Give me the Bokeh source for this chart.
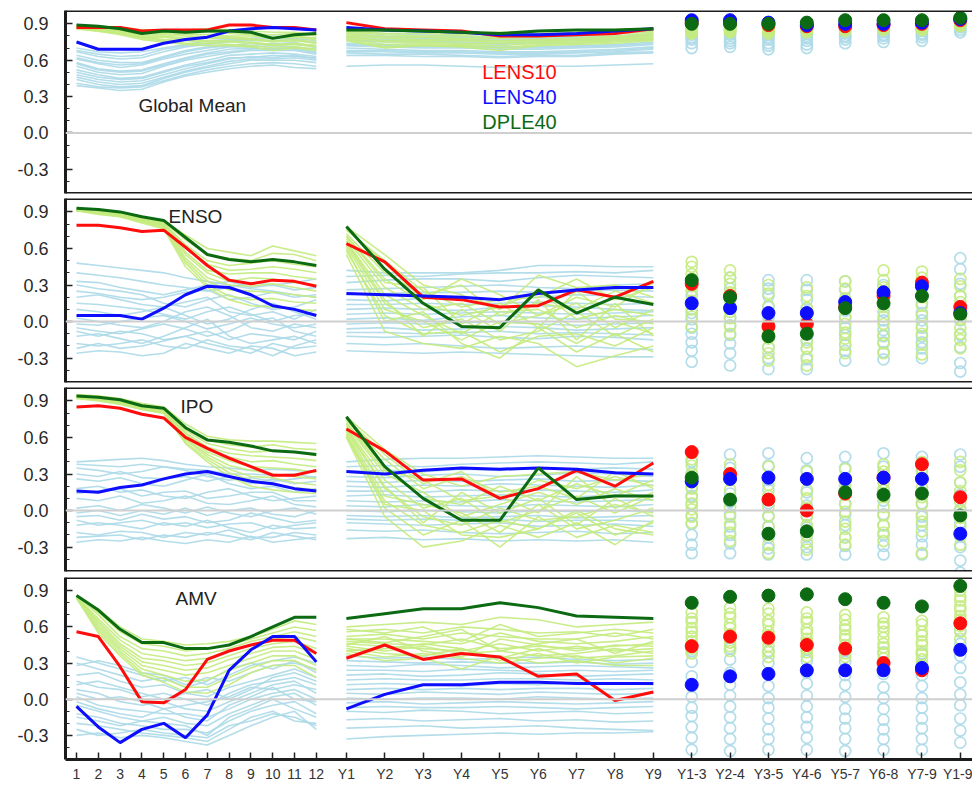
from bokeh.plotting import figure
from bokeh.models import FixedTicker, Span, Label, NumeralTickFormatter
from bokeh.layouts import column
from bokeh.embed import file_html
from bokeh.resources import INLINE

# ---------------- tick labels ----------------
MONTH_LABELS = ["1", "2", "3", "4", "5", "6", "7", "8", "9", "10", "11", "12"]
LEAD_LABELS = ["Y1", "Y2", "Y3", "Y4", "Y5", "Y6", "Y7", "Y8", "Y9"]
AVG_LABELS = ["Y1-3", "Y2-4", "Y3-5", "Y4-6", "Y5-7", "Y6-8", "Y7-9", "Y1-9"]
SERIES_NAMES = ["LENS10", "LENS40", "DPLE40"]
PANEL_NAMES = ["Global Mean", "ENSO", "IPO", "AMV"]

# ---------------- Global Mean ----------------
GM_L10_MON = [0.87, 0.87, 0.87, 0.84, 0.85, 0.85, 0.85, 0.89, 0.89, 0.87, 0.87, 0.85]
GM_L40_MON = [0.75, 0.69, 0.69, 0.69, 0.74, 0.77, 0.79, 0.84, 0.86, 0.87, 0.86, 0.85]
GM_D40_MON = [0.89, 0.88, 0.86, 0.82, 0.84, 0.83, 0.84, 0.84, 0.83, 0.78, 0.81, 0.82]
GM_L10_YR = [0.91, 0.86, 0.85, 0.84, 0.80, 0.80, 0.81, 0.82, 0.86]
GM_L40_YR = [0.87, 0.85, 0.84, 0.83, 0.81, 0.81, 0.82, 0.84, 0.86]
GM_D40_YR = [0.85, 0.85, 0.84, 0.83, 0.82, 0.84, 0.85, 0.85, 0.86]
GM_L10_AVG = [0.91, 0.91, 0.89, 0.88, 0.88, 0.89, 0.90, 0.93]
GM_L40_AVG = [0.93, 0.93, 0.91, 0.89, 0.90, 0.90, 0.91, 0.94]
GM_D40_AVG = [0.90, 0.90, 0.90, 0.91, 0.93, 0.93, 0.93, 0.95]
GM_LENS_MON = [
    [0.70, 0.67, 0.66, 0.67, 0.70, 0.73, 0.76, 0.77, 0.78, 0.80, 0.79, 0.78],
    [0.68, 0.65, 0.63, 0.64, 0.69, 0.72, 0.74, 0.76, 0.77, 0.78, 0.78, 0.76],
    [0.67, 0.63, 0.61, 0.62, 0.67, 0.71, 0.73, 0.75, 0.76, 0.76, 0.77, 0.74],
    [0.64, 0.60, 0.58, 0.58, 0.63, 0.68, 0.71, 0.73, 0.72, 0.74, 0.73, 0.72],
    [0.62, 0.58, 0.56, 0.57, 0.62, 0.67, 0.70, 0.72, 0.74, 0.73, 0.75, 0.70],
    [0.61, 0.57, 0.54, 0.56, 0.61, 0.65, 0.68, 0.71, 0.71, 0.72, 0.71, 0.69],
    [0.58, 0.53, 0.51, 0.52, 0.57, 0.62, 0.66, 0.69, 0.70, 0.69, 0.70, 0.67],
    [0.57, 0.52, 0.50, 0.51, 0.56, 0.61, 0.65, 0.67, 0.69, 0.70, 0.69, 0.66],
    [0.55, 0.50, 0.48, 0.49, 0.55, 0.60, 0.63, 0.66, 0.68, 0.68, 0.68, 0.65],
    [0.52, 0.48, 0.45, 0.46, 0.51, 0.56, 0.60, 0.64, 0.65, 0.66, 0.65, 0.63],
    [0.50, 0.46, 0.44, 0.45, 0.50, 0.55, 0.58, 0.62, 0.62, 0.64, 0.63, 0.62],
    [0.48, 0.44, 0.42, 0.43, 0.48, 0.53, 0.57, 0.61, 0.63, 0.62, 0.64, 0.61],
    [0.46, 0.42, 0.40, 0.41, 0.46, 0.51, 0.55, 0.59, 0.61, 0.61, 0.62, 0.60],
    [0.44, 0.40, 0.38, 0.39, 0.45, 0.50, 0.54, 0.57, 0.60, 0.60, 0.60, 0.58],
    [0.41, 0.38, 0.37, 0.38, 0.43, 0.48, 0.52, 0.55, 0.57, 0.58, 0.57, 0.55],
    [0.39, 0.37, 0.35, 0.36, 0.42, 0.47, 0.50, 0.53, 0.55, 0.56, 0.54, 0.53],
]
GM_DPLE_MON = [
    [0.89, 0.88, 0.87, 0.85, 0.85, 0.85, 0.86, 0.85, 0.84, 0.83, 0.83, 0.81],
    [0.88, 0.88, 0.86, 0.84, 0.84, 0.84, 0.84, 0.84, 0.82, 0.81, 0.82, 0.80],
    [0.88, 0.87, 0.86, 0.83, 0.83, 0.82, 0.83, 0.82, 0.81, 0.79, 0.80, 0.78],
    [0.88, 0.87, 0.85, 0.82, 0.82, 0.81, 0.81, 0.80, 0.80, 0.78, 0.79, 0.77],
    [0.87, 0.86, 0.84, 0.81, 0.81, 0.80, 0.79, 0.79, 0.78, 0.76, 0.77, 0.75],
    [0.87, 0.86, 0.84, 0.80, 0.80, 0.78, 0.78, 0.78, 0.77, 0.75, 0.76, 0.74],
    [0.87, 0.85, 0.83, 0.79, 0.79, 0.77, 0.76, 0.76, 0.75, 0.73, 0.74, 0.72],
    [0.86, 0.85, 0.82, 0.79, 0.77, 0.76, 0.75, 0.75, 0.74, 0.72, 0.73, 0.71],
    [0.86, 0.84, 0.82, 0.78, 0.76, 0.74, 0.74, 0.73, 0.72, 0.70, 0.71, 0.69],
    [0.86, 0.84, 0.81, 0.77, 0.75, 0.73, 0.72, 0.72, 0.71, 0.68, 0.70, 0.68],
]
GM_LENS_YR = [
    [0.86, 0.84, 0.83, 0.82, 0.80, 0.81, 0.82, 0.83, 0.85],
    [0.84, 0.82, 0.81, 0.80, 0.79, 0.80, 0.80, 0.82, 0.84],
    [0.82, 0.80, 0.79, 0.79, 0.78, 0.78, 0.79, 0.80, 0.82],
    [0.80, 0.79, 0.78, 0.77, 0.77, 0.77, 0.78, 0.79, 0.81],
    [0.79, 0.77, 0.77, 0.76, 0.76, 0.76, 0.77, 0.78, 0.80],
    [0.77, 0.76, 0.76, 0.75, 0.74, 0.75, 0.76, 0.77, 0.78],
    [0.76, 0.75, 0.75, 0.74, 0.73, 0.74, 0.74, 0.76, 0.77],
    [0.74, 0.73, 0.72, 0.72, 0.71, 0.71, 0.72, 0.73, 0.75],
    [0.73, 0.72, 0.71, 0.71, 0.70, 0.70, 0.71, 0.72, 0.74],
    [0.72, 0.71, 0.70, 0.70, 0.69, 0.69, 0.70, 0.71, 0.73],
    [0.70, 0.69, 0.68, 0.68, 0.67, 0.67, 0.68, 0.69, 0.71],
    [0.68, 0.68, 0.67, 0.67, 0.66, 0.66, 0.67, 0.68, 0.70],
    [0.67, 0.67, 0.66, 0.66, 0.65, 0.65, 0.66, 0.67, 0.69],
    [0.66, 0.65, 0.65, 0.64, 0.63, 0.64, 0.64, 0.66, 0.67],
    [0.64, 0.64, 0.63, 0.63, 0.62, 0.63, 0.63, 0.65, 0.66],
    [0.55, 0.56, 0.56, 0.55, 0.54, 0.55, 0.55, 0.56, 0.57],
]
GM_DPLE_YR = [
    [0.85, 0.84, 0.84, 0.83, 0.83, 0.84, 0.85, 0.85, 0.86],
    [0.84, 0.82, 0.82, 0.81, 0.82, 0.82, 0.83, 0.84, 0.84],
    [0.83, 0.81, 0.80, 0.80, 0.79, 0.80, 0.81, 0.82, 0.83],
    [0.82, 0.79, 0.79, 0.78, 0.78, 0.79, 0.80, 0.80, 0.82],
    [0.81, 0.78, 0.77, 0.77, 0.76, 0.77, 0.78, 0.79, 0.81],
    [0.80, 0.76, 0.76, 0.76, 0.75, 0.76, 0.77, 0.78, 0.80],
    [0.79, 0.75, 0.75, 0.74, 0.74, 0.75, 0.76, 0.77, 0.79],
    [0.78, 0.73, 0.74, 0.73, 0.72, 0.74, 0.75, 0.76, 0.78],
    [0.77, 0.71, 0.73, 0.72, 0.70, 0.73, 0.74, 0.75, 0.77],
    [0.76, 0.70, 0.72, 0.71, 0.68, 0.72, 0.73, 0.74, 0.76],
]
GM_LENS_AVG = [
    [0.90, 0.88, 0.86, 0.85, 0.83, 0.81, 0.79, 0.77, 0.74, 0.70],
    [0.90, 0.89, 0.87, 0.84, 0.82, 0.81, 0.78, 0.76, 0.74, 0.71],
    [0.89, 0.87, 0.85, 0.82, 0.81, 0.79, 0.77, 0.74, 0.72, 0.69],
    [0.89, 0.88, 0.86, 0.83, 0.82, 0.80, 0.78, 0.76, 0.73, 0.70],
    [0.90, 0.89, 0.87, 0.86, 0.84, 0.82, 0.80, 0.79, 0.77, 0.74],
    [0.91, 0.90, 0.88, 0.86, 0.85, 0.83, 0.81, 0.80, 0.78, 0.75],
    [0.91, 0.90, 0.89, 0.87, 0.85, 0.84, 0.82, 0.81, 0.79, 0.76],
    [0.94, 0.93, 0.92, 0.91, 0.90, 0.89, 0.88, 0.87, 0.85, 0.83],
]
GM_DPLE_AVG = [
    [0.90, 0.89, 0.88, 0.87, 0.87, 0.86, 0.85, 0.84, 0.83, 0.82],
    [0.90, 0.89, 0.88, 0.88, 0.87, 0.86, 0.86, 0.85, 0.84, 0.83],
    [0.90, 0.89, 0.88, 0.87, 0.86, 0.86, 0.85, 0.84, 0.83, 0.82],
    [0.91, 0.90, 0.89, 0.88, 0.87, 0.86, 0.85, 0.85, 0.84, 0.83],
    [0.92, 0.91, 0.90, 0.89, 0.89, 0.88, 0.87, 0.86, 0.85, 0.84],
    [0.92, 0.91, 0.90, 0.90, 0.89, 0.88, 0.87, 0.86, 0.86, 0.85],
    [0.92, 0.91, 0.91, 0.90, 0.89, 0.88, 0.88, 0.87, 0.86, 0.85],
    [0.95, 0.94, 0.93, 0.93, 0.92, 0.91, 0.91, 0.90, 0.89, 0.88],
]

# ---------------- ENSO ----------------
ENSO_L10_MON = [0.79, 0.79, 0.77, 0.74, 0.75, 0.61, 0.46, 0.34, 0.31, 0.34, 0.33, 0.29]
ENSO_L40_MON = [0.05, 0.05, 0.05, 0.02, 0.11, 0.22, 0.29, 0.28, 0.22, 0.13, 0.10, 0.05]
ENSO_D40_MON = [0.93, 0.92, 0.90, 0.86, 0.83, 0.69, 0.55, 0.51, 0.49, 0.51, 0.49, 0.46]
ENSO_L10_YR = [0.64, 0.49, 0.20, 0.18, 0.12, 0.13, 0.26, 0.20, 0.33]
ENSO_L40_YR = [0.23, 0.22, 0.21, 0.20, 0.18, 0.23, 0.26, 0.28, 0.28]
ENSO_D40_YR = [0.78, 0.43, 0.15, -0.04, -0.05, 0.26, 0.07, 0.20, 0.14]
ENSO_L10_AVG = [0.31, 0.21, -0.04, -0.02, 0.12, 0.21, 0.32, 0.12]
ENSO_L40_AVG = [0.15, 0.11, 0.07, 0.07, 0.16, 0.24, 0.29, 0.07]
ENSO_D40_AVG = [0.34, 0.20, -0.12, -0.10, 0.11, 0.15, 0.21, 0.06]
ENSO_LENS_MON = [
    [0.48, 0.46, 0.44, 0.42, 0.40, 0.36, 0.33, 0.30, 0.27, 0.25, 0.22, 0.20],
    [0.40, 0.38, 0.36, 0.33, 0.30, 0.28, 0.25, 0.28, 0.32, 0.30, 0.26, 0.28],
    [0.33, 0.32, 0.28, 0.25, 0.22, 0.26, 0.30, 0.33, 0.28, 0.30, 0.32, 0.35],
    [0.30, 0.27, 0.25, 0.22, 0.15, 0.12, 0.18, 0.22, 0.15, 0.10, 0.12, 0.18],
    [0.25, 0.23, 0.20, 0.18, 0.20, 0.24, 0.26, 0.18, 0.20, 0.24, 0.20, 0.22],
    [0.20, 0.22, 0.18, 0.14, 0.12, 0.16, 0.20, 0.08, 0.05, 0.08, 0.02, 0.10],
    [0.15, 0.14, 0.12, 0.10, 0.06, 0.02, 0.08, 0.12, 0.06, 0.00, 0.05, 0.06],
    [0.10, 0.08, 0.05, 0.08, 0.12, 0.05, -0.02, 0.02, 0.10, 0.15, 0.08, 0.02],
    [0.03, 0.00, -0.03, -0.05, 0.00, 0.08, 0.12, 0.05, -0.05, -0.08, -0.02, -0.05],
    [-0.02, -0.03, 0.00, 0.03, 0.05, 0.00, -0.06, -0.02, 0.03, -0.02, -0.05, -0.02],
    [-0.05, -0.08, -0.10, -0.06, -0.02, -0.06, -0.12, -0.08, 0.00, 0.03, -0.08, -0.12],
    [-0.08, -0.12, -0.08, -0.10, -0.15, -0.12, -0.08, -0.15, -0.10, -0.12, -0.15, -0.08],
    [-0.12, -0.10, -0.14, -0.18, -0.12, -0.05, 0.02, -0.12, -0.18, -0.15, -0.12, -0.18],
    [-0.18, -0.20, -0.18, -0.15, -0.20, -0.22, -0.15, -0.20, -0.22, -0.28, -0.20, -0.15],
    [-0.22, -0.18, -0.22, -0.20, -0.16, -0.12, -0.18, -0.22, -0.26, -0.18, -0.22, -0.20],
    [-0.26, -0.24, -0.25, -0.28, -0.26, -0.18, -0.22, -0.26, -0.20, -0.22, -0.28, -0.25],
]
ENSO_DPLE_MON = [
    [0.93, 0.92, 0.89, 0.86, 0.83, 0.71, 0.60, 0.57, 0.54, 0.62, 0.58, 0.54],
    [0.93, 0.91, 0.89, 0.85, 0.82, 0.67, 0.55, 0.52, 0.50, 0.56, 0.55, 0.50],
    [0.92, 0.91, 0.88, 0.85, 0.81, 0.63, 0.50, 0.46, 0.48, 0.50, 0.47, 0.45],
    [0.92, 0.91, 0.88, 0.84, 0.80, 0.61, 0.47, 0.42, 0.43, 0.45, 0.43, 0.40],
    [0.92, 0.90, 0.88, 0.84, 0.80, 0.57, 0.42, 0.39, 0.40, 0.40, 0.37, 0.35],
    [0.92, 0.90, 0.87, 0.83, 0.79, 0.55, 0.40, 0.33, 0.36, 0.35, 0.32, 0.30],
    [0.91, 0.90, 0.87, 0.83, 0.79, 0.52, 0.36, 0.30, 0.29, 0.31, 0.28, 0.25],
    [0.91, 0.89, 0.87, 0.82, 0.78, 0.50, 0.33, 0.26, 0.25, 0.24, 0.22, 0.20],
    [0.91, 0.89, 0.86, 0.82, 0.77, 0.48, 0.30, 0.21, 0.18, 0.19, 0.16, 0.15],
    [0.91, 0.88, 0.86, 0.81, 0.76, 0.45, 0.28, 0.18, 0.13, 0.12, 0.10, 0.09],
]
ENSO_LENS_YR = [
    [0.42, 0.40, 0.40, 0.40, 0.42, 0.46, 0.46, 0.45, 0.45],
    [0.37, 0.38, 0.37, 0.39, 0.40, 0.40, 0.41, 0.40, 0.42],
    [0.32, 0.34, 0.35, 0.35, 0.33, 0.36, 0.38, 0.37, 0.36],
    [0.26, 0.27, 0.28, 0.29, 0.30, 0.28, 0.27, 0.30, 0.31],
    [0.22, 0.23, 0.24, 0.24, 0.25, 0.24, 0.25, 0.26, 0.25],
    [0.18, 0.17, 0.19, 0.20, 0.18, 0.20, 0.22, 0.21, 0.20],
    [0.14, 0.14, 0.15, 0.14, 0.15, 0.16, 0.15, 0.14, 0.15],
    [0.10, 0.11, 0.10, 0.09, 0.12, 0.13, 0.12, 0.10, 0.09],
    [0.06, 0.07, 0.06, 0.07, 0.08, 0.07, 0.06, 0.07, 0.08],
    [0.02, 0.03, 0.01, 0.04, 0.05, 0.03, 0.02, 0.04, 0.05],
    [-0.02, -0.01, -0.02, -0.01, 0.00, -0.02, -0.03, -0.02, -0.01],
    [-0.06, -0.05, -0.07, -0.06, -0.04, -0.05, -0.07, -0.06, -0.05],
    [-0.09, -0.09, -0.10, -0.09, -0.08, -0.10, -0.09, -0.10, -0.11],
    [-0.12, -0.13, -0.12, -0.11, -0.13, -0.14, -0.12, -0.13, -0.15],
    [-0.18, -0.19, -0.18, -0.20, -0.22, -0.21, -0.20, -0.22, -0.23],
    [-0.24, -0.25, -0.26, -0.25, -0.26, -0.27, -0.28, -0.29, -0.29],
]
ENSO_DPLE_YR = [
    [0.78, 0.55, 0.30, 0.22, 0.10, 0.38, 0.28, 0.30, 0.20],
    [0.76, 0.48, 0.18, 0.35, 0.22, 0.05, 0.20, 0.12, 0.32],
    [0.75, 0.50, 0.25, 0.12, 0.18, 0.20, 0.35, 0.18, 0.28],
    [0.72, 0.40, 0.22, 0.30, 0.05, 0.15, 0.10, 0.25, 0.15],
    [0.70, 0.35, 0.15, 0.05, 0.12, 0.25, 0.02, 0.10, 0.05],
    [0.70, 0.32, 0.28, -0.02, 0.15, -0.05, 0.25, 0.02, 0.00],
    [0.68, 0.28, 0.10, 0.15, -0.02, 0.05, 0.15, -0.05, 0.10],
    [0.66, 0.22, 0.05, -0.10, 0.08, 0.10, -0.05, 0.05, -0.02],
    [0.65, 0.18, -0.12, 0.10, -0.08, 0.18, -0.15, 0.15, -0.12],
    [0.64, 0.15, -0.05, 0.02, -0.15, -0.08, 0.08, -0.12, 0.02],
    [0.62, 0.10, 0.00, -0.15, 0.00, -0.02, -0.18, 0.00, -0.10],
    [0.60, 0.00, 0.08, -0.18, -0.30, -0.05, -0.25, -0.10, -0.25],
    [0.58, 0.05, -0.10, -0.08, -0.25, -0.12, -0.10, -0.20, -0.05],
    [0.55, -0.08, -0.18, -0.22, -0.12, -0.18, -0.37, -0.28, -0.20],
]
ENSO_LENS_AVG = [
    [0.30, 0.21, 0.16, 0.07, 0.02, -0.05, -0.10, -0.17, -0.24, -0.33],
    [0.36, 0.27, 0.17, 0.11, 0.03, -0.03, -0.11, -0.18, -0.26, -0.36],
    [0.34, 0.27, 0.21, 0.12, 0.03, -0.05, -0.13, -0.21, -0.30, -0.39],
    [0.34, 0.26, 0.18, 0.11, 0.01, -0.06, -0.15, -0.22, -0.31, -0.39],
    [0.33, 0.26, 0.16, 0.09, 0.03, -0.05, -0.11, -0.19, -0.24, -0.32],
    [0.30, 0.23, 0.14, 0.08, 0.01, -0.07, -0.12, -0.17, -0.25, -0.31],
    [0.30, 0.21, 0.15, 0.07, 0.01, -0.05, -0.12, -0.17, -0.22, -0.30],
    [0.52, 0.43, 0.31, 0.21, 0.09, 0.01, -0.11, -0.21, -0.34, -0.41],
]
ENSO_DPLE_AVG = [
    [0.49, 0.45, 0.39, 0.35, 0.29, 0.25, 0.17, 0.10, 0.04, -0.04],
    [0.42, 0.36, 0.31, 0.24, 0.20, 0.13, 0.08, 0.03, -0.04, -0.10],
    [0.30, 0.23, 0.13, 0.07, -0.02, -0.09, -0.14, -0.21, -0.26, -0.32],
    [0.28, 0.21, 0.11, 0.05, -0.04, -0.10, -0.17, -0.22, -0.29, -0.36],
    [0.33, 0.27, 0.19, 0.12, 0.04, -0.02, -0.09, -0.14, -0.19, -0.26],
    [0.42, 0.34, 0.28, 0.21, 0.12, 0.04, -0.02, -0.11, -0.18, -0.26],
    [0.41, 0.36, 0.27, 0.20, 0.13, 0.05, -0.04, -0.10, -0.19, -0.27],
    [0.35, 0.29, 0.21, 0.16, 0.08, 0.02, -0.05, -0.10, -0.15, -0.22],
]

# ---------------- IPO ----------------
IPO_L10_MON = [0.85, 0.86, 0.84, 0.79, 0.76, 0.60, 0.51, 0.43, 0.36, 0.29, 0.29, 0.33]
IPO_L40_MON = [0.16, 0.15, 0.19, 0.21, 0.26, 0.30, 0.32, 0.28, 0.24, 0.22, 0.18, 0.16]
IPO_D40_MON = [0.94, 0.93, 0.91, 0.86, 0.84, 0.68, 0.58, 0.56, 0.53, 0.49, 0.48, 0.46]
IPO_L10_YR = [0.67, 0.49, 0.25, 0.26, 0.10, 0.18, 0.33, 0.20, 0.39]
IPO_L40_YR = [0.32, 0.30, 0.33, 0.35, 0.34, 0.35, 0.34, 0.31, 0.30]
IPO_D40_YR = [0.77, 0.36, 0.10, -0.08, -0.08, 0.35, 0.09, 0.12, 0.12]
IPO_L10_AVG = [0.48, 0.30, 0.09, 0.00, 0.14, 0.27, 0.38, 0.11]
IPO_L40_AVG = [0.24, 0.26, 0.27, 0.26, 0.26, 0.27, 0.26, -0.19]
IPO_D40_AVG = [0.27, 0.09, -0.19, -0.17, 0.15, 0.13, 0.14, -0.04]
IPO_LENS_MON = [
    [0.40, 0.41, 0.42, 0.43, 0.41, 0.38, 0.36, 0.35, 0.33, 0.34, 0.33, 0.32],
    [0.38, 0.37, 0.36, 0.38, 0.36, 0.34, 0.33, 0.30, 0.30, 0.29, 0.30, 0.27],
    [0.35, 0.33, 0.30, 0.32, 0.36, 0.33, 0.28, 0.25, 0.27, 0.24, 0.26, 0.28],
    [0.30, 0.28, 0.32, 0.27, 0.26, 0.28, 0.24, 0.28, 0.22, 0.26, 0.22, 0.24],
    [0.26, 0.24, 0.27, 0.22, 0.20, 0.25, 0.30, 0.22, 0.18, 0.20, 0.15, 0.18],
    [0.18, 0.20, 0.15, 0.17, 0.12, 0.10, 0.15, 0.18, 0.12, 0.08, 0.10, 0.12],
    [0.14, 0.16, 0.18, 0.12, 0.15, 0.16, 0.10, 0.12, 0.15, 0.15, 0.08, 0.08],
    [0.10, 0.08, 0.12, 0.06, 0.08, 0.12, 0.06, 0.05, 0.08, 0.12, 0.05, 0.03],
    [0.02, 0.04, 0.00, 0.05, 0.02, -0.02, 0.03, -0.02, -0.05, 0.00, 0.02, -0.03],
    [-0.02, 0.00, -0.04, 0.00, -0.03, 0.02, -0.04, 0.00, 0.02, -0.03, -0.05, 0.00],
    [-0.05, -0.04, -0.08, -0.03, -0.07, -0.05, -0.10, -0.08, -0.02, -0.06, -0.10, -0.08],
    [-0.08, -0.12, -0.10, -0.08, -0.12, -0.10, -0.14, -0.11, -0.10, -0.15, -0.12, -0.10],
    [-0.12, -0.10, -0.12, -0.15, -0.10, -0.13, -0.08, -0.14, -0.18, -0.12, -0.15, -0.14],
    [-0.18, -0.20, -0.17, -0.18, -0.22, -0.18, -0.20, -0.16, -0.22, -0.22, -0.18, -0.20],
    [-0.22, -0.21, -0.20, -0.24, -0.20, -0.22, -0.18, -0.21, -0.24, -0.18, -0.21, -0.24],
    [-0.26, -0.24, -0.25, -0.22, -0.25, -0.27, -0.24, -0.26, -0.21, -0.26, -0.24, -0.22],
]
IPO_DPLE_MON = [
    [0.95, 0.94, 0.92, 0.88, 0.85, 0.71, 0.61, 0.58, 0.57, 0.57, 0.56, 0.55],
    [0.95, 0.94, 0.91, 0.87, 0.84, 0.68, 0.58, 0.54, 0.52, 0.54, 0.51, 0.50],
    [0.94, 0.93, 0.91, 0.86, 0.84, 0.66, 0.55, 0.51, 0.48, 0.49, 0.48, 0.45],
    [0.94, 0.93, 0.90, 0.86, 0.83, 0.64, 0.52, 0.47, 0.45, 0.44, 0.43, 0.41],
    [0.94, 0.92, 0.90, 0.85, 0.83, 0.63, 0.50, 0.44, 0.40, 0.41, 0.38, 0.36],
    [0.93, 0.92, 0.89, 0.85, 0.82, 0.61, 0.48, 0.41, 0.36, 0.35, 0.34, 0.31],
    [0.93, 0.92, 0.89, 0.84, 0.82, 0.59, 0.46, 0.37, 0.33, 0.30, 0.28, 0.26],
    [0.93, 0.91, 0.88, 0.84, 0.81, 0.58, 0.44, 0.34, 0.28, 0.27, 0.23, 0.21],
    [0.92, 0.91, 0.88, 0.83, 0.80, 0.56, 0.42, 0.31, 0.25, 0.22, 0.19, 0.17],
    [0.92, 0.90, 0.87, 0.83, 0.80, 0.55, 0.40, 0.28, 0.20, 0.17, 0.15, 0.14],
]
IPO_LENS_YR = [
    [0.40, 0.42, 0.43, 0.43, 0.44, 0.45, 0.44, 0.43, 0.43],
    [0.36, 0.37, 0.36, 0.38, 0.39, 0.40, 0.39, 0.38, 0.40],
    [0.32, 0.33, 0.32, 0.34, 0.33, 0.35, 0.34, 0.35, 0.34],
    [0.28, 0.27, 0.29, 0.30, 0.28, 0.29, 0.31, 0.30, 0.28],
    [0.24, 0.23, 0.25, 0.24, 0.25, 0.26, 0.24, 0.25, 0.24],
    [0.20, 0.19, 0.21, 0.20, 0.22, 0.21, 0.20, 0.19, 0.21],
    [0.16, 0.16, 0.15, 0.17, 0.16, 0.17, 0.16, 0.15, 0.17],
    [0.12, 0.13, 0.11, 0.12, 0.13, 0.12, 0.11, 0.13, 0.12],
    [0.08, 0.07, 0.08, 0.07, 0.09, 0.08, 0.07, 0.08, 0.09],
    [0.04, 0.03, 0.05, 0.04, 0.03, 0.05, 0.04, 0.03, 0.05],
    [0.00, -0.01, 0.00, -0.01, -0.02, 0.00, -0.01, 0.00, -0.01],
    [-0.04, -0.05, -0.04, -0.06, -0.05, -0.04, -0.06, -0.05, -0.04],
    [-0.07, -0.08, -0.07, -0.08, -0.07, -0.09, -0.08, -0.08, -0.09],
    [-0.10, -0.11, -0.12, -0.11, -0.10, -0.13, -0.12, -0.11, -0.13],
    [-0.16, -0.17, -0.16, -0.18, -0.19, -0.18, -0.17, -0.19, -0.18],
    [-0.23, -0.22, -0.24, -0.23, -0.25, -0.24, -0.25, -0.24, -0.26],
]
IPO_DPLE_YR = [
    [0.77, 0.50, 0.30, 0.20, 0.28, 0.30, 0.32, 0.25, 0.30],
    [0.75, 0.46, 0.22, 0.32, 0.10, 0.25, 0.18, 0.28, 0.20],
    [0.74, 0.42, 0.18, 0.28, 0.15, 0.20, 0.10, 0.32, 0.18],
    [0.72, 0.36, 0.10, 0.05, 0.20, 0.08, 0.22, 0.12, 0.25],
    [0.71, 0.33, 0.25, 0.08, 0.12, -0.02, 0.28, 0.02, 0.15],
    [0.70, 0.30, 0.15, -0.05, 0.05, 0.15, 0.05, 0.18, 0.08],
    [0.68, 0.25, 0.02, 0.10, -0.10, 0.00, 0.12, -0.02, 0.12],
    [0.67, 0.20, -0.10, 0.15, -0.02, 0.10, -0.12, 0.10, -0.05],
    [0.66, 0.18, -0.05, -0.12, 0.02, -0.08, -0.05, 0.05, -0.02],
    [0.65, 0.12, 0.05, -0.02, -0.18, 0.05, -0.15, -0.08, 0.02],
    [0.63, 0.08, -0.12, -0.18, -0.08, -0.15, -0.02, -0.20, -0.10],
    [0.62, 0.02, -0.20, -0.08, -0.30, -0.05, -0.22, -0.12, -0.18],
    [0.61, 0.05, 0.00, -0.20, -0.22, -0.15, 0.00, -0.15, -0.20],
    [0.60, -0.05, -0.30, -0.25, -0.12, -0.22, -0.10, -0.28, -0.08],
]
IPO_LENS_AVG = [
    [0.40, 0.31, 0.19, 0.12, 0.05, -0.04, -0.11, -0.20, -0.28, -0.35],
    [0.46, 0.35, 0.26, 0.14, 0.07, -0.03, -0.13, -0.20, -0.27, -0.35],
    [0.47, 0.37, 0.25, 0.17, 0.06, -0.05, -0.13, -0.22, -0.31, -0.36],
    [0.43, 0.33, 0.26, 0.15, 0.04, -0.04, -0.14, -0.21, -0.30, -0.36],
    [0.44, 0.35, 0.24, 0.16, 0.06, -0.03, -0.12, -0.22, -0.29, -0.36],
    [0.47, 0.36, 0.28, 0.17, 0.08, -0.03, -0.12, -0.20, -0.29, -0.36],
    [0.44, 0.34, 0.26, 0.15, 0.06, -0.05, -0.12, -0.21, -0.28, -0.36],
    [0.46, 0.36, 0.23, 0.13, 0.01, -0.10, -0.21, -0.30, -0.41, -0.51],
]
IPO_DPLE_AVG = [
    [0.42, 0.37, 0.30, 0.23, 0.18, 0.11, 0.06, 0.01, -0.05, -0.10],
    [0.38, 0.30, 0.25, 0.17, 0.09, 0.03, -0.05, -0.11, -0.18, -0.25],
    [0.36, 0.27, 0.21, 0.12, 0.03, -0.04, -0.13, -0.20, -0.28, -0.35],
    [0.32, 0.26, 0.17, 0.10, 0.02, -0.05, -0.12, -0.20, -0.26, -0.32],
    [0.34, 0.26, 0.21, 0.13, 0.05, -0.01, -0.09, -0.15, -0.22, -0.28],
    [0.38, 0.32, 0.23, 0.17, 0.11, 0.03, -0.04, -0.12, -0.18, -0.25],
    [0.40, 0.32, 0.27, 0.19, 0.11, 0.05, -0.03, -0.09, -0.17, -0.35],
    [0.40, 0.33, 0.23, 0.16, 0.07, 0.00, -0.06, -0.13, -0.20, -0.28],
]

# ---------------- AMV ----------------
AMV_L10_MON = [0.56, 0.52, 0.27, -0.02, -0.03, 0.08, 0.33, 0.40, 0.45, 0.49, 0.49, 0.38]
AMV_L40_MON = [-0.06, -0.23, -0.36, -0.25, -0.20, -0.32, -0.13, 0.24, 0.41, 0.52, 0.52, 0.31]
AMV_D40_MON = [0.86, 0.74, 0.58, 0.47, 0.47, 0.42, 0.42, 0.45, 0.52, 0.60, 0.68, 0.68]
AMV_L10_YR = [0.34, 0.45, 0.33, 0.38, 0.35, 0.19, 0.21, -0.01, 0.06]
AMV_L40_YR = [-0.08, 0.04, 0.12, 0.12, 0.14, 0.14, 0.13, 0.13, 0.13]
AMV_D40_YR = [0.67, 0.71, 0.75, 0.75, 0.80, 0.76, 0.69, 0.68, 0.67]
AMV_L10_AVG = [0.44, 0.52, 0.51, 0.45, 0.42, 0.30, 0.24, 0.63]
AMV_L40_AVG = [0.12, 0.19, 0.21, 0.24, 0.24, 0.24, 0.26, 0.41]
AMV_D40_AVG = [0.80, 0.85, 0.86, 0.87, 0.83, 0.80, 0.77, 0.94]
AMV_LENS_MON = [
    [0.35, 0.30, 0.25, 0.20, 0.15, 0.18, 0.12, 0.20, 0.28, 0.32, 0.35, 0.30],
    [0.30, 0.25, 0.20, 0.15, 0.18, 0.10, 0.15, 0.25, 0.30, 0.25, 0.32, 0.22],
    [0.28, 0.32, 0.28, 0.22, 0.20, 0.12, 0.18, 0.15, 0.22, 0.28, 0.30, 0.25],
    [0.20, 0.22, 0.15, 0.10, 0.12, 0.05, 0.02, 0.10, 0.15, 0.20, 0.25, 0.18],
    [0.15, 0.10, 0.08, 0.02, 0.05, 0.00, -0.05, 0.05, 0.12, 0.15, 0.18, 0.12],
    [0.12, 0.15, 0.10, 0.05, 0.00, 0.05, 0.08, 0.00, 0.08, 0.18, 0.22, 0.15],
    [0.08, 0.05, -0.02, -0.05, -0.02, -0.08, -0.10, -0.02, 0.05, 0.12, 0.15, 0.05],
    [0.05, 0.00, 0.02, -0.02, -0.08, -0.05, -0.02, 0.02, 0.10, 0.08, 0.12, 0.08],
    [0.02, -0.05, -0.08, -0.10, -0.12, -0.12, -0.15, -0.08, 0.00, 0.05, 0.08, 0.00],
    [-0.02, -0.08, -0.12, -0.15, -0.08, -0.15, -0.18, -0.05, 0.02, 0.10, 0.00, -0.02],
    [-0.05, -0.10, -0.15, -0.18, -0.15, -0.20, -0.22, -0.12, -0.05, 0.02, 0.05, -0.05],
    [-0.12, -0.15, -0.20, -0.22, -0.25, -0.25, -0.28, -0.18, -0.10, -0.05, -0.02, -0.12],
    [-0.15, -0.18, -0.22, -0.18, -0.20, -0.22, -0.30, -0.15, -0.08, 0.00, -0.08, -0.15],
    [-0.20, -0.22, -0.25, -0.28, -0.30, -0.32, -0.35, -0.25, -0.15, -0.10, -0.18, -0.20],
    [-0.25, -0.30, -0.28, -0.25, -0.28, -0.30, -0.32, -0.22, -0.18, -0.12, -0.15, -0.22],
    [-0.30, -0.28, -0.32, -0.30, -0.32, -0.35, -0.38, -0.30, -0.22, -0.15, -0.10, -0.25],
]
AMV_DPLE_MON = [
    [0.86, 0.75, 0.60, 0.50, 0.48, 0.45, 0.46, 0.48, 0.52, 0.58, 0.65, 0.62],
    [0.86, 0.72, 0.56, 0.46, 0.44, 0.40, 0.42, 0.45, 0.50, 0.55, 0.60, 0.57],
    [0.86, 0.70, 0.52, 0.42, 0.40, 0.36, 0.38, 0.42, 0.48, 0.52, 0.56, 0.52],
    [0.85, 0.67, 0.49, 0.38, 0.35, 0.32, 0.34, 0.40, 0.45, 0.50, 0.52, 0.48],
    [0.85, 0.65, 0.46, 0.34, 0.32, 0.28, 0.30, 0.36, 0.42, 0.46, 0.48, 0.42],
    [0.85, 0.63, 0.44, 0.31, 0.28, 0.24, 0.26, 0.33, 0.38, 0.43, 0.44, 0.38],
    [0.85, 0.61, 0.42, 0.28, 0.24, 0.20, 0.22, 0.28, 0.34, 0.40, 0.40, 0.33],
    [0.84, 0.59, 0.40, 0.25, 0.20, 0.15, 0.16, 0.24, 0.30, 0.36, 0.36, 0.28],
    [0.84, 0.57, 0.38, 0.22, 0.17, 0.10, 0.10, 0.18, 0.26, 0.32, 0.32, 0.24],
    [0.84, 0.55, 0.36, 0.20, 0.14, 0.06, 0.05, 0.12, 0.22, 0.28, 0.28, 0.18],
]
AMV_LENS_YR = [
    [0.36, 0.34, 0.35, 0.33, 0.34, 0.35, 0.33, 0.32, 0.33],
    [0.32, 0.31, 0.30, 0.31, 0.30, 0.30, 0.31, 0.29, 0.30],
    [0.28, 0.27, 0.29, 0.28, 0.26, 0.27, 0.28, 0.27, 0.26],
    [0.24, 0.24, 0.23, 0.25, 0.24, 0.23, 0.24, 0.23, 0.24],
    [0.20, 0.21, 0.19, 0.20, 0.22, 0.21, 0.19, 0.20, 0.21],
    [0.16, 0.17, 0.16, 0.16, 0.17, 0.17, 0.16, 0.17, 0.16],
    [0.12, 0.13, 0.12, 0.11, 0.13, 0.12, 0.14, 0.13, 0.12],
    [0.08, 0.09, 0.08, 0.09, 0.08, 0.09, 0.09, 0.08, 0.09],
    [0.05, 0.04, 0.06, 0.05, 0.04, 0.06, 0.05, 0.04, 0.05],
    [0.01, 0.00, 0.01, 0.01, 0.00, 0.02, 0.01, 0.00, 0.01],
    [-0.03, -0.02, -0.04, -0.03, -0.02, -0.03, -0.04, -0.03, -0.02],
    [-0.07, -0.06, -0.07, -0.07, -0.06, -0.07, -0.08, -0.07, -0.06],
    [-0.10, -0.11, -0.09, -0.10, -0.12, -0.11, -0.10, -0.12, -0.11],
    [-0.17, -0.16, -0.18, -0.17, -0.16, -0.18, -0.17, -0.19, -0.18],
    [-0.24, -0.23, -0.22, -0.24, -0.23, -0.22, -0.24, -0.25, -0.26],
    [-0.33, -0.31, -0.30, -0.29, -0.28, -0.29, -0.28, -0.28, -0.27],
]
AMV_DPLE_YR = [
    [0.60, 0.62, 0.64, 0.62, 0.68, 0.66, 0.60, 0.62, 0.64],
    [0.58, 0.55, 0.60, 0.48, 0.62, 0.52, 0.55, 0.58, 0.55],
    [0.56, 0.58, 0.55, 0.60, 0.58, 0.55, 0.56, 0.52, 0.58],
    [0.52, 0.54, 0.50, 0.55, 0.52, 0.50, 0.50, 0.55, 0.50],
    [0.50, 0.47, 0.52, 0.58, 0.40, 0.46, 0.50, 0.38, 0.48],
    [0.50, 0.50, 0.48, 0.46, 0.55, 0.48, 0.46, 0.48, 0.52],
    [0.48, 0.46, 0.45, 0.50, 0.42, 0.44, 0.42, 0.44, 0.46],
    [0.46, 0.44, 0.42, 0.40, 0.46, 0.40, 0.44, 0.40, 0.42],
    [0.45, 0.52, 0.40, 0.35, 0.50, 0.45, 0.40, 0.45, 0.44],
    [0.44, 0.40, 0.44, 0.38, 0.40, 0.36, 0.38, 0.42, 0.38],
    [0.42, 0.38, 0.36, 0.42, 0.34, 0.42, 0.34, 0.36, 0.40],
    [0.40, 0.42, 0.46, 0.42, 0.32, 0.38, 0.30, 0.35, 0.36],
    [0.40, 0.35, 0.38, 0.34, 0.30, 0.34, 0.36, 0.30, 0.34],
    [0.38, 0.32, 0.34, 0.25, 0.36, 0.30, 0.32, 0.28, 0.28],
]
AMV_LENS_AVG = [
    [0.40, 0.31, 0.19, 0.11, 0.02, -0.07, -0.14, -0.23, -0.32, -0.42],
    [0.42, 0.33, 0.22, 0.12, 0.03, -0.06, -0.15, -0.24, -0.33, -0.43],
    [0.40, 0.30, 0.21, 0.11, 0.01, -0.07, -0.16, -0.25, -0.33, -0.42],
    [0.41, 0.32, 0.22, 0.13, 0.03, -0.06, -0.15, -0.23, -0.32, -0.42],
    [0.40, 0.31, 0.20, 0.12, 0.02, -0.08, -0.16, -0.24, -0.33, -0.43],
    [0.39, 0.30, 0.21, 0.10, 0.01, -0.08, -0.17, -0.25, -0.33, -0.42],
    [0.38, 0.29, 0.20, 0.11, 0.01, -0.07, -0.16, -0.24, -0.33, -0.42],
    [0.57, 0.46, 0.36, 0.26, 0.14, 0.04, -0.05, -0.16, -0.26, -0.36],
]
AMV_DPLE_AVG = [
    [0.72, 0.67, 0.64, 0.59, 0.56, 0.52, 0.48, 0.45, 0.42, 0.38],
    [0.76, 0.71, 0.68, 0.62, 0.59, 0.54, 0.51, 0.47, 0.44, 0.40],
    [0.75, 0.71, 0.65, 0.62, 0.56, 0.53, 0.49, 0.44, 0.39, 0.35],
    [0.72, 0.67, 0.64, 0.58, 0.55, 0.50, 0.47, 0.42, 0.39, 0.35],
    [0.70, 0.66, 0.61, 0.58, 0.53, 0.50, 0.45, 0.42, 0.38, 0.35],
    [0.68, 0.63, 0.60, 0.56, 0.51, 0.46, 0.43, 0.38, 0.34, 0.30],
    [0.65, 0.62, 0.56, 0.53, 0.48, 0.45, 0.40, 0.37, 0.33, 0.28],
    [0.90, 0.85, 0.82, 0.77, 0.74, 0.69, 0.66, 0.61, 0.56, 0.50],
]

# ---------------- layout / style ----------------
MON_X = [100 * (i + 1) for i in range(len(MONTH_LABELS))]
LEAD_X = [1338 + 176 * i for i in range(len(LEAD_LABELS))]
AVG_X = [1338 + 176 * (len(LEAD_LABELS) + i) for i in range(len(AVG_LABELS))]
X_RANGE = (49.5, 4210)
Y_RANGE = (-0.5, 1.01)

C_L10 = "#ff0d0d"
C_L40 = "#0d0dff"
C_D40 = "#0b6a12"
C_LMEM = "#acd9e8"
C_DMEM = "#c4eb7e"
C_FRAME = "#1c1c1c"
FONT = "Liberation Sans"

TICK_LABELS = {}
for xs, labs in ((MON_X, MONTH_LABELS), (LEAD_X, LEAD_LABELS), (AVG_X, AVG_LABELS)):
    for xv, lab in zip(xs, labs):
        TICK_LABELS[xv] = lab


def make_panel(height, top, bottom, label, label_x, label_y, show_x,
               l10m, l40m, d40m, l10y, l40y, d40y, l10a, l40a, d40a,
               lens_mon, dple_mon, lens_yr, dple_yr, lens_avg, dple_avg):
    p = figure(width=972, height=height, x_range=X_RANGE, y_range=Y_RANGE,
               output_backend="svg", toolbar_location=None,
               min_border_left=65, min_border_right=0,
               min_border_top=top, min_border_bottom=bottom)
    p.grid.visible = False
    p.outline_line_color = None
    p.background_fill_color = "white"
    p.border_fill_color = "white"

    yax = p.yaxis[0]
    yax.ticker = FixedTicker(ticks=[-0.3, 0.0, 0.3, 0.6, 0.9],
                             minor_ticks=[-0.4, -0.2, -0.1, 0.1, 0.2, 0.4, 0.5, 0.7, 0.8, 1.0])
    yax.formatter = NumeralTickFormatter(format="0.0")
    yax.axis_line_color = C_FRAME
    yax.axis_line_width = 3
    yax.major_tick_in = 7
    yax.major_tick_out = 0
    yax.minor_tick_in = 4
    yax.minor_tick_out = 0
    yax.major_tick_line_color = "#222222"
    yax.minor_tick_line_color = "#222222"
    yax.major_tick_line_width = 1.5
    yax.major_label_standoff = 17
    yax.major_label_text_font = FONT
    yax.major_label_text_font_size = "18px"
    yax.major_label_text_color = "#2a2a2a"

    xax = p.xaxis[0]
    if show_x:
        xax.ticker = FixedTicker(ticks=MON_X + LEAD_X + AVG_X, minor_ticks=[])
        xax.major_label_overrides = TICK_LABELS
        xax.axis_line_color = C_FRAME
        xax.axis_line_width = 3
        xax.major_tick_in = 7
        xax.major_tick_out = 0
        xax.major_tick_line_color = "#222222"
        xax.major_tick_line_width = 1.5
        xax.major_label_standoff = 6
        xax.major_label_text_font = FONT
        xax.major_label_text_font_size = "14px"
        xax.major_label_text_color = "#333333"
    else:
        xax.visible = False
        p.add_layout(Span(location=Y_RANGE[0], dimension="width",
                          line_color=C_FRAME, line_width=3))
    p.add_layout(Span(location=Y_RANGE[1], dimension="width",
                      line_color=C_FRAME, line_width=3))

    p.add_layout(Span(location=0, dimension="width", line_color="#cfcfcf", line_width=2))

    # ensemble members (spaghetti)
    for mem, xs, col in ((lens_mon, MON_X, C_LMEM), (lens_yr, LEAD_X, C_LMEM),
                         (dple_mon, MON_X, C_DMEM), (dple_yr, LEAD_X, C_DMEM)):
        p.multi_line(xs=[xs] * len(mem), ys=mem, line_color=col, line_width=1.6, line_alpha=0.9)

    # ensemble members (multi-year averages): hollow circles
    for mem, col in ((lens_avg, C_LMEM), (dple_avg, C_DMEM)):
        mx, my = [], []
        for xv, colvals in zip(AVG_X, mem):
            for v in colvals:
                mx.append(xv)
                my.append(v)
        p.scatter(mx, my, marker="circle", size=11, fill_color=None,
                  line_color=col, line_width=1.7, line_alpha=0.9)

    # ensemble means
    for ys_m, ys_y, ys_a, col in ((l10m, l10y, l10a, C_L10),
                                  (l40m, l40y, l40a, C_L40),
                                  (d40m, d40y, d40a, C_D40)):
        p.line(MON_X, ys_m, line_color=col, line_width=3)
        p.line(LEAD_X, ys_y, line_color=col, line_width=3)
        p.scatter(AVG_X, ys_a, marker="circle", size=13, fill_color=col, line_color=col)

    p.add_layout(Label(x=label_x, y=label_y, text=label, text_font=FONT,
                       text_font_size="19px", text_color="#222222",
                       text_baseline="middle", text_align="left"))
    return p


p1 = make_panel(196, 10, 3, PANEL_NAMES[0], 384, 0.23, False,
                GM_L10_MON, GM_L40_MON, GM_D40_MON, GM_L10_YR, GM_L40_YR, GM_D40_YR,
                GM_L10_AVG, GM_L40_AVG, GM_D40_AVG,
                GM_LENS_MON, GM_DPLE_MON, GM_LENS_YR, GM_DPLE_YR, GM_LENS_AVG, GM_DPLE_AVG)
for name, col, yv in zip(SERIES_NAMES, (C_L10, C_L40, C_D40), (0.50, 0.295, 0.09)):
    p1.add_layout(Label(x=2132, y=yv, text=name, text_font=FONT, text_font_size="20px",
                        text_color=col, text_align="center", text_baseline="middle"))

p2 = make_panel(189, 2, 3, PANEL_NAMES[1], 522, 0.865, False,
                ENSO_L10_MON, ENSO_L40_MON, ENSO_D40_MON, ENSO_L10_YR, ENSO_L40_YR, ENSO_D40_YR,
                ENSO_L10_AVG, ENSO_L40_AVG, ENSO_D40_AVG,
                ENSO_LENS_MON, ENSO_DPLE_MON, ENSO_LENS_YR, ENSO_DPLE_YR, ENSO_LENS_AVG, ENSO_DPLE_AVG)
p3 = make_panel(189, 2, 3, PANEL_NAMES[2], 577, 0.85, False,
                IPO_L10_MON, IPO_L40_MON, IPO_D40_MON, IPO_L10_YR, IPO_L40_YR, IPO_D40_YR,
                IPO_L10_AVG, IPO_L40_AVG, IPO_D40_AVG,
                IPO_LENS_MON, IPO_DPLE_MON, IPO_LENS_YR, IPO_DPLE_YR, IPO_LENS_AVG, IPO_DPLE_AVG)
p4 = make_panel(210, 3, 23, PANEL_NAMES[3], 554, 0.835, True,
                AMV_L10_MON, AMV_L40_MON, AMV_D40_MON, AMV_L10_YR, AMV_L40_YR, AMV_D40_YR,
                AMV_L10_AVG, AMV_L40_AVG, AMV_D40_AVG,
                AMV_LENS_MON, AMV_DPLE_MON, AMV_LENS_YR, AMV_DPLE_YR, AMV_LENS_AVG, AMV_DPLE_AVG)

layout = column(p1, p2, p3, p4, spacing=0)
open("out.html", "w").write(file_html(layout, INLINE))
